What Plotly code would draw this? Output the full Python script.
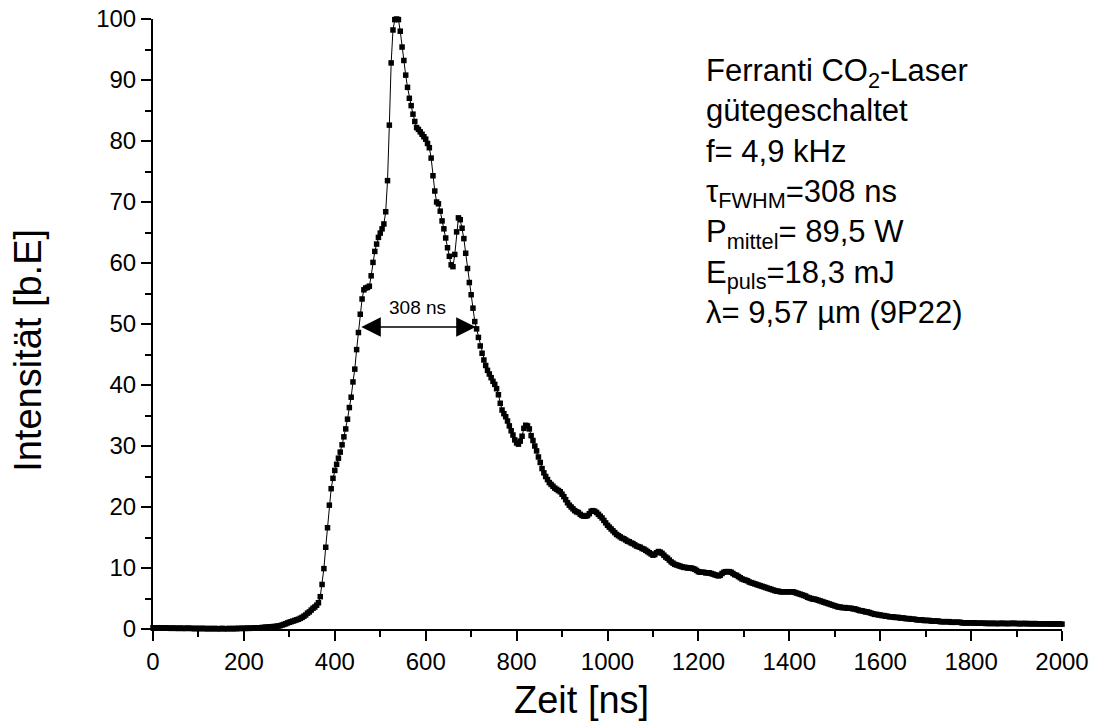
import numpy as np
import plotly.graph_objects as go

intensity = [
    0.2, 0.15, 0.2, 0.2, 0.15, 0.15, 0.2, 0.2, 0.15, 0.15,      # 0
    0.1, 0.15, 0.15, 0.1, 0.1, 0.15, 0.1, 0.1, 0.1, 0.15,       # 40
    0.1, 0.1, 0.1, 0.05, 0.1, 0.1, 0.05, 0.1, 0.1, 0.05,        # 80
    0.05, 0.1, 0.05, 0.05, 0.1, 0.05, 0.05, 0.05, 0.1, 0.05,    # 120
    0.05, 0.05, 0.1, 0.05, 0.05, 0.1, 0.05, 0.1, 0.1, 0.1,      # 160
    0.1, 0.1, 0.15, 0.1, 0.15, 0.15, 0.15, 0.2, 0.2, 0.2,       # 200
    0.25, 0.25, 0.3, 0.3, 0.35, 0.35, 0.4, 0.4, 0.45, 0.5,      # 240
    0.55, 0.65, 0.75, 0.85, 1.0, 1.1, 1.2, 1.3, 1.4, 1.5,       # 280
    1.6, 1.75, 1.9, 2.1, 2.3, 2.6, 2.8, 3.1, 3.4, 3.6,          # 320
    3.9, 4.3, 5.3, 7.3, 9.9, 13.4, 16.6, 20.3, 23.0, 24.7,      # 360
    26.0, 27.0, 28.0, 29.0, 30.2, 31.5, 32.8, 34.4, 36.3, 38.0, # 400
    40.5, 42.6, 45.8, 48.6, 51.6, 54.1, 55.6, 55.9, 56.0, 56.2, # 440
    57.9, 60.1, 61.9, 63.1, 64.2, 64.9, 65.6, 66.4, 68.4, 73.5, # 480
    82.6, 92.8, 98.2, 99.9, 100.0, 99.9, 98.0, 95.4, 93.2, 90.8,# 520
    88.8, 87.0, 85.8, 84.4, 83.2, 82.2, 81.9, 81.5, 81.1, 80.7, # 560
    80.3, 79.6, 78.9, 77.2, 74.3, 71.8, 70.0, 69.7, 68.5, 66.9, # 600
    65.6, 64.1, 62.5, 61.1, 59.7, 59.4, 61.4, 65.1, 67.4, 67.1, # 640
    65.7, 64.0, 61.6, 59.1, 56.8, 54.8, 52.6, 50.4, 49.2, 47.8, # 680
    46.4, 45.2, 44.1, 43.2, 42.4, 41.8, 41.2, 40.6, 40.1, 39.4, # 720
    38.4, 37.0, 35.9, 35.3, 34.8, 34.1, 33.3, 32.5, 31.8, 31.0, # 760
    30.5, 30.3, 30.8, 31.6, 32.9, 33.4, 33.3, 32.8, 31.7, 30.9, # 800
    30.0, 29.2, 28.2, 27.3, 26.3, 25.6, 25.0, 24.5, 24.0, 23.7, # 840
    23.4, 23.1, 22.9, 22.7, 22.5, 22.1, 21.7, 21.2, 20.7, 20.3, # 880
    20.0, 19.7, 19.4, 19.2, 19.1, 18.8, 18.6, 18.5, 18.5, 18.6, # 920
    18.9, 19.3, 19.4, 19.3, 19.1, 18.8, 18.5, 18.2, 17.8, 17.4, # 960
    17.0, 16.7, 16.4, 16.1, 15.8, 15.5, 15.3, 15.1, 14.9, 14.8, # 1000
    14.6, 14.4, 14.3, 14.1, 14.0, 13.8, 13.6, 13.5, 13.4, 13.2, # 1040
    13.1, 12.9, 12.7, 12.5, 12.3, 12.1, 12.2, 12.5, 12.7, 12.6, # 1080
    12.4, 12.1, 11.8, 11.6, 11.3, 11.0, 10.8, 10.6, 10.5, 10.4, # 1120
    10.3, 10.2, 10.1, 10.1, 10.0, 10.0, 10.0, 9.9, 9.8, 9.6,    # 1160
    9.4, 9.3, 9.3, 9.3, 9.2, 9.2, 9.2, 9.1, 9.0, 8.9,           # 1200
    8.8, 8.7, 8.8, 9.1, 9.3, 9.4, 9.4, 9.4, 9.3, 9.1,           # 1240
    8.9, 8.8, 8.6, 8.4, 8.2, 8.1, 8.0, 7.9, 7.7, 7.6,           # 1280
    7.5, 7.4, 7.3, 7.2, 7.1, 7.0, 6.9, 6.8, 6.7, 6.6,           # 1320
    6.5, 6.4, 6.3, 6.2, 6.2, 6.1, 6.1, 6.1, 6.1, 6.1,           # 1360
    6.1, 6.1, 6.1, 6.0, 5.9, 5.8, 5.7, 5.6, 5.5, 5.4,           # 1400
    5.2, 5.1, 5.0, 4.9, 4.9, 4.8, 4.7, 4.6, 4.5, 4.4,           # 1440
    4.3, 4.2, 4.1, 4.0, 3.9, 3.8, 3.7, 3.6, 3.6, 3.5,           # 1480
    3.5, 3.5, 3.4, 3.4, 3.4, 3.3, 3.3, 3.2, 3.1, 3.0,           # 1520
    3.0, 2.9, 2.8, 2.8, 2.7, 2.6, 2.5, 2.4, 2.4, 2.3,           # 1560
    2.3, 2.2, 2.2, 2.1, 2.1, 2.0, 2.0, 2.0, 1.9, 1.9,           # 1600
    1.9, 1.8, 1.8, 1.8, 1.7, 1.7, 1.7, 1.6, 1.6, 1.6,           # 1640
    1.5, 1.5, 1.5, 1.5, 1.4, 1.4, 1.4, 1.4, 1.3, 1.3,           # 1680
    1.3, 1.3, 1.3, 1.2, 1.2, 1.2, 1.2, 1.2, 1.2, 1.1,           # 1720
    1.1, 1.1, 1.1, 1.1, 1.1, 1.0, 1.0, 1.0, 1.0, 1.0,           # 1760
    1.0, 1.0, 1.0, 0.95, 0.95, 0.95, 0.95, 0.95, 0.9, 0.95,     # 1800
    0.9, 0.9, 0.95, 0.9, 0.9, 0.9, 0.9, 0.95, 0.9, 0.9,         # 1840
    0.9, 0.9, 0.9, 0.95, 0.9, 0.9, 0.9, 0.85, 0.9, 0.9,         # 1880
    0.9, 0.85, 0.9, 0.85, 0.85, 0.9, 0.85, 0.85, 0.85, 0.85,    # 1920
    0.85, 0.85, 0.85, 0.85, 0.8, 0.85, 0.85, 0.8, 0.85, 0.8,    # 1960
    0.8,                                                        # 2000
]
time_step_ns = 4
time_ns = [i * time_step_ns for i in range(len(intensity))]

x_ticks = [0, 200, 400, 600, 800, 1000, 1200, 1400, 1600, 1800, 2000]
y_ticks = [0, 10, 20, 30, 40, 50, 60, 70, 80, 90, 100]

x_title = "Zeit [ns]"
y_title = "Intensität [b.E]"

fwhm_left, fwhm_right, fwhm_level = 455, 710, 49.5
fwhm_label = "308 ns"

info_lines = [
    "Ferranti CO<sub>2</sub>-Laser",
    "gütegeschaltet",
    "f= 4,9 kHz",
    "τ<sub>FWHM</sub>=308 ns",
    "P<sub>mittel</sub>= 89,5 W",
    "E<sub>puls</sub>=18,3 mJ",
    "λ= 9,57 µm (9P22)",
]

FONT = "Liberation Sans, Arial, sans-serif"

fig = go.Figure()
fig.add_trace(go.Scatter(
    x=time_ns, y=intensity, mode="lines+markers",
    line=dict(color="black", width=1),
    marker=dict(symbol="square", size=5.5, color="black"),
    cliponaxis=False, showlegend=False,
))

# FWHM double arrow
fig.add_annotation(
    x=fwhm_right, y=fwhm_level, ax=fwhm_left, ay=fwhm_level,
    xref="x", yref="y", axref="x", ayref="y",
    text="", showarrow=True, arrowhead=2, startarrowhead=2,
    arrowside="end+start", arrowsize=2.6, startarrowsize=2.6,
    arrowwidth=1.5, arrowcolor="black",
)
fig.add_annotation(
    x=(fwhm_left + fwhm_right) / 2, y=fwhm_level, xref="x", yref="y",
    text=fwhm_label, showarrow=False, yanchor="bottom", yshift=7,
    font=dict(family=FONT, size=19, color="black"),
)

fig.add_annotation(
    x=1212, y=94.8, xref="x", yref="y", xanchor="left", yanchor="top",
    align="left", showarrow=False, text="<br>".join(info_lines),
    font=dict(family=FONT, size=31, color="black"),
)

# axis titles (placed like in the reference)
fig.add_annotation(
    x=0.471, y=-0.117, xref="paper", yref="paper", xanchor="center", yanchor="middle",
    text=x_title, showarrow=False, font=dict(family=FONT, size=38, color="black"),
)
fig.add_annotation(
    x=-0.1375, y=0.456, xref="paper", yref="paper", xanchor="center", yanchor="middle",
    text=y_title, textangle=-90, showarrow=False,
    font=dict(family=FONT, size=38, color="black"),
)

axis_common = dict(
    showline=True, linecolor="black", linewidth=2, mirror=False,
    ticks="outside", ticklen=10, tickwidth=2, tickcolor="black",
    showgrid=False, zeroline=False, automargin=False,
    tickfont=dict(family=FONT, size=24, color="black"),
)

fig.update_xaxes(
    range=[0, 2000], tickvals=x_ticks,
    minor=dict(dtick=100, ticklen=6, tickwidth=2, tickcolor="black", ticks="outside"),
    **axis_common,
)
fig.update_yaxes(
    range=[0, 100], tickvals=y_ticks,
    minor=dict(dtick=5, ticklen=6, tickwidth=2, tickcolor="black", ticks="outside"),
    **axis_common,
)

fig.update_layout(
    width=1095, height=726,
    margin=dict(l=153, r=33, t=19, b=97),
    plot_bgcolor="white", paper_bgcolor="white",
)

fig.write_html("out.html")
